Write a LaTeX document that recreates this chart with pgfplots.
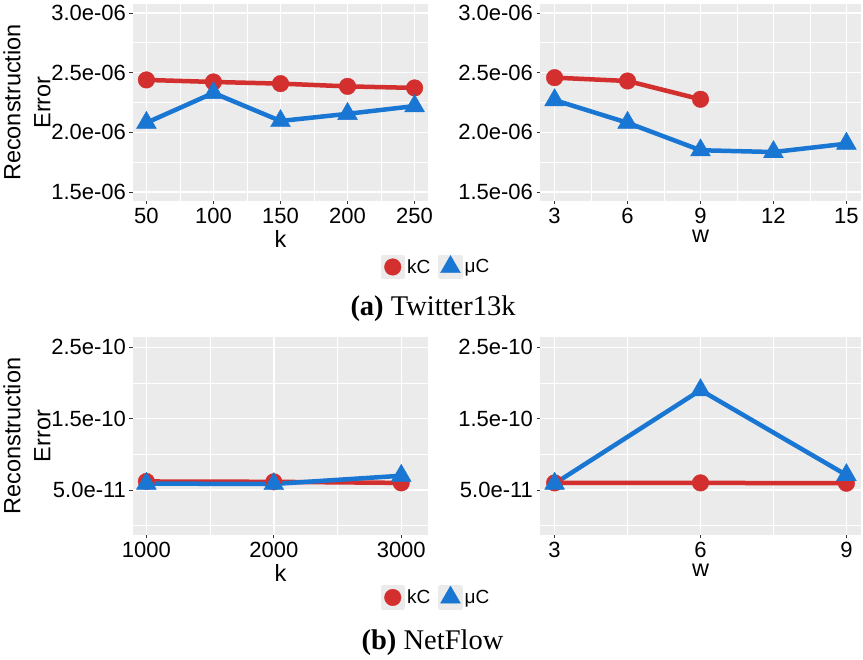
\documentclass[border=0pt]{standalone}
\usepackage{fontspec}
\setmainfont{Liberation Sans}
\newfontfamily\capfont{Liberation Serif}
\usepackage{pgfplots}
\pgfplotsset{compat=1.18}
\definecolor{bggrey}{RGB}{235,235,235}
\definecolor{kcred}{RGB}{211,47,47}
\definecolor{mcblue}{RGB}{25,118,210}
\pgfplotsset{
  gg/.style={
    scale only axis,
    anchor=south west,
    axis background/.style={fill=bggrey},
    axis line style={draw=none},
    grid=both,
    major grid style={white, line width=1.4pt},
    minor grid style={white, line width=0.7pt},
    minor x tick num=1,
    tick align=outside,
    tick pos=left,
    major tick length=3.5pt,
    minor tick length=0pt,
    tick style={color=black!80, line width=0.8pt},
    ticklabel style={font=\fontsize{22}{24}\selectfont, text=black},
    /pgf/number format/assume math mode=true,
    /pgf/number format/1000 sep={},
    scaled ticks=false,
    label style={font=\fontsize{23.5}{28}\selectfont},
    xlabel style={inner sep=0pt, yshift=-3pt},
    ylabel style={align=center, font=\fontsize{23.5}{28}\selectfont},
    ylabel shift=-6pt,
    legend columns=2,
    legend style={draw=none, fill=none, anchor=center, font=\fontsize{19}{22}\selectfont,
      /tikz/every even column/.append style={column sep=6pt}},
    legend image code/.code={\fill[bggrey] (-10pt,-10pt) rectangle (10pt,10pt);
      \draw[##1,/tikz/only marks] plot coordinates {(0pt,0pt)};},
  },
  kc/.style={color=kcred, line width=4.5pt, line join=round, mark=*, mark size=8.3pt, mark options={solid, line width=0.4pt}},
  mc/.style={color=mcblue, line width=4.5pt, line join=round, mark=triangle*, mark size=11.5pt, mark options={solid, line width=0.4pt}},
}
\begin{document}
\begin{tikzpicture}
\useasboundingbox (0,0) rectangle (863pt,660pt);
% top left
\begin{axis}[gg, at={(133pt,459pt)}, width=295pt, height=197pt,
  xmin=40, xmax=260, ymin=1.425e-6, ymax=3.075e-6,
  xtick={50,100,150,200,250},
  ytick={1.5e-6,2e-6,2.5e-6,3e-6}, yticklabels={1.5e-06,2.0e-06,2.5e-06,3.0e-06},
  minor ytick={1.75e-6,2.25e-6,2.75e-6},
  xlabel={k}, ylabel={Reconstruction\\[2pt]Error},
  legend style={at={(1.027,-0.335)}}]
\addplot[kc] coordinates {(50,2.439e-6) (100,2.422e-6) (150,2.408e-6) (200,2.385e-6) (250,2.372e-6)};
\addlegendentry{kC}
\addplot[mc] coordinates {(50,2.08e-6) (100,2.33e-6) (150,2.095e-6) (200,2.155e-6) (250,2.22e-6)};
\addlegendentry{μC}
\end{axis}
% top right
\begin{axis}[gg, at={(540pt,459pt)}, width=321pt, height=197pt,
  xmin=2.4, xmax=15.6, ymin=1.425e-6, ymax=3.075e-6,
  xtick={3,6,9,12,15},
  ytick={1.5e-6,2e-6,2.5e-6,3e-6}, yticklabels={1.5e-06,2.0e-06,2.5e-06,3.0e-06},
  minor ytick={1.75e-6,2.25e-6,2.75e-6},
  xlabel={w}]
\addplot[kc] coordinates {(3,2.458e-6) (6,2.430e-6) (9,2.277e-6)};
\addplot[mc] coordinates {(3,2.27e-6) (6,2.08e-6) (9,1.85e-6) (12,1.835e-6) (15,1.905e-6)};
\end{axis}
% bottom left
\begin{axis}[gg, at={(133pt,125pt)}, width=295pt, height=197.7pt,
  xmin=895, xmax=3210, ymin=-0.13e-10, ymax=2.64e-10,
  xtick={1000,2000,3000},
  ytick={0.5e-10,1.5e-10,2.5e-10}, yticklabels={5.0e-11,1.5e-10,2.5e-10},
  minor ytick={0,1e-10,2e-10},
  xlabel={k}, ylabel={Reconstruction\\[2pt]Error},
  legend style={at={(1.027,-0.316)}}]
\addplot[kc] coordinates {(1000,6.2e-11) (2000,6.15e-11) (3000,6.0e-11)};
\addlegendentry{kC}
\addplot[mc] coordinates {(1000,5.9e-11) (2000,5.85e-11) (3000,7.0e-11)};
\addlegendentry{μC}
\end{axis}
% bottom right
\begin{axis}[gg, at={(540pt,125pt)}, width=321pt, height=197.7pt,
  xmin=2.7, xmax=9.3, ymin=-0.13e-10, ymax=2.64e-10,
  xtick={3,6,9},
  ytick={0.5e-10,1.5e-10,2.5e-10}, yticklabels={5.0e-11,1.5e-10,2.5e-10},
  minor ytick={0,1e-10,2e-10},
  xlabel={w}]
\addplot[kc] coordinates {(3,6.0e-11) (6,6.0e-11) (9,5.95e-11)};
\addplot[mc] coordinates {(3,5.9e-11) (6,1.9e-10) (9,7.1e-11)};
\end{axis}
\node[anchor=base, font=\capfont\fontsize{28.5}{32}\selectfont] at (433pt,344pt) {\textbf{(a)} Twitter13k};
\node[anchor=base, font=\capfont\fontsize{28.5}{32}\selectfont] at (432.5pt,10.7pt) {\textbf{(b)} NetFlow};
\end{tikzpicture}
\end{document}
